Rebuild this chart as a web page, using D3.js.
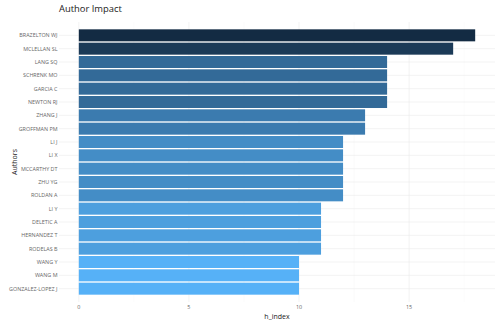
<!DOCTYPE html>
<html>
<head>
<meta charset="utf-8">
<script src="https://cdn.jsdelivr.net/npm/d3@7"></script>
<style>
  body { margin: 0; background: #fff; }
  svg { font-family: "Open Sans", sans-serif; }
</style>
</head>
<body>
<script>
const authors = ["BRAZELTON WJ","MCLELLAN SL","LANG SQ","SCHRENK MO","GARCIA C","NEWTON RJ","ZHANG J","GROFFMAN PM","LI J","LI X","MCCARTHY DT","ZHU YG","ROLDAN A","LI Y","DELETIC A","HERNANDEZ T","RODELAS B","WANG Y","WANG M","GONZALEZ-LOPEZ J"]
const hIndex = [18,17,14,14,14,14,13,13,12,12,12,12,12,11,11,11,11,10,10,10]
const xTicks = [0,5,10,15]

const width = 498, height = 323
const margin = { top: 22, right: 3, bottom: 21, left: 59 }
const innerW = width - margin.left - margin.right
const innerH = height - margin.top - margin.bottom

const svg = d3.select("body").append("svg")
  .attr("width", width).attr("height", height)

const x = d3.scaleLinear()
  .domain([-0.9, 18.9])
  .range([margin.left, margin.left + innerW])

const y = d3.scaleBand()
  .domain(authors)
  .range([margin.top, margin.top + innerH])
  .paddingInner(0.1)
  .paddingOuter(0.55)

const color = d3.scaleLinear()
  .domain([d3.min(hIndex), d3.max(hIndex)])
  .range(["#56B1F7", "#132B43"])
  .interpolate(d3.interpolateLab)

// grid
const grid = svg.append("g")
grid.selectAll(".gx").data(xTicks).join("line")
  .attr("x1", d => x(d)).attr("x2", d => x(d))
  .attr("y1", margin.top).attr("y2", margin.top + innerH)
  .attr("stroke", "#ebebeb").attr("stroke-width", 0.6)
grid.selectAll(".gxm").data([2.5, 7.5, 12.5, 17.5]).join("line")
  .attr("x1", d => x(d)).attr("x2", d => x(d))
  .attr("y1", margin.top).attr("y2", margin.top + innerH)
  .attr("stroke", "#f4f4f4").attr("stroke-width", 0.4)
grid.selectAll(".gy").data(authors).join("line")
  .attr("x1", margin.left).attr("x2", margin.left + innerW)
  .attr("y1", d => y(d) + y.bandwidth() / 2).attr("y2", d => y(d) + y.bandwidth() / 2)
  .attr("stroke", "#ebebeb").attr("stroke-width", 0.6)

// bars
svg.append("g").selectAll("rect").data(authors).join("rect")
  .attr("x", x(0))
  .attr("y", d => y(d))
  .attr("width", (d, i) => x(hIndex[i]) - x(0))
  .attr("height", y.bandwidth())
  .attr("fill", (d, i) => color(hIndex[i]))

// y axis labels
svg.append("g").selectAll("text").data(authors).join("text")
  .attr("x", margin.left - 1.5)
  .attr("y", d => y(d) + y.bandwidth() / 2)
  .attr("dy", "0.35em")
  .attr("text-anchor", "end")
  .attr("font-size", 5.4)
  .attr("fill", "#666")
  .text(d => d)

// x axis labels
svg.append("g").selectAll("text").data(xTicks).join("text")
  .attr("x", d => x(d))
  .attr("y", margin.top + innerH + 7)
  .attr("text-anchor", "middle")
  .attr("font-size", 5.4)
  .attr("fill", "#666")
  .text(d => d)

// titles
svg.append("text")
  .attr("x", margin.left).attr("y", 12)
  .attr("font-size", 9.4).attr("fill", "#222")
  .text("Author Impact")

svg.append("text")
  .attr("x", margin.left + innerW / 2).attr("y", 319)
  .attr("text-anchor", "middle")
  .attr("font-size", 7).attr("fill", "#222")
  .text("h_index")

svg.append("text")
  .attr("transform", `translate(17,${margin.top + innerH / 2}) rotate(-90)`)
  .attr("text-anchor", "middle")
  .attr("font-size", 7).attr("fill", "#222")
  .text("Authors")
</script>
</body>
</html>
